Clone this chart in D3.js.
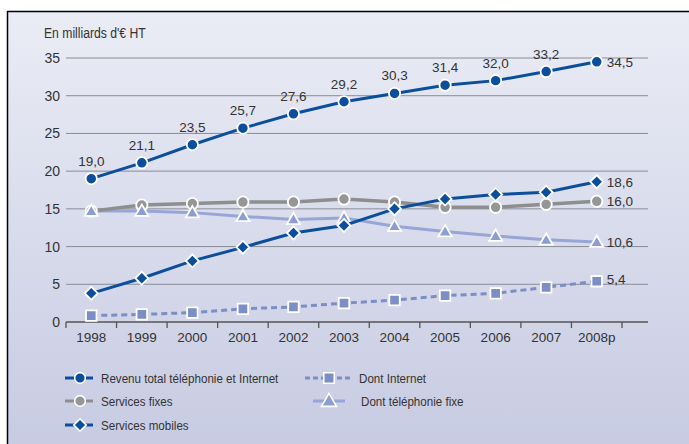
<!DOCTYPE html>
<html><head><meta charset="utf-8">
<script src="https://cdn.jsdelivr.net/npm/d3@7"></script>
<style>body{margin:0;background:#fff}svg{display:block}text{font-family:"Liberation Sans",Arial,sans-serif;fill:#333}</style>
</head><body><svg id="c" width="689" height="444"></svg>
<script>
const years = ["1998","1999","2000","2001","2002","2003","2004","2005","2006","2007","2008p"];
const revenuTotal = [19.0,21.1,23.5,25.7,27.6,29.2,30.3,31.4,32.0,33.2,34.5];
const servicesFixes = [14.7,15.5,15.7,15.9,15.9,16.3,15.9,15.2,15.2,15.6,16.0];
const servicesMobiles = [3.8,5.8,8.1,9.9,11.8,12.8,15.0,16.3,16.9,17.2,18.6];
const dontInternet = [0.85,1.0,1.25,1.75,2.0,2.5,2.9,3.5,3.8,4.6,5.4];
const dontTelFixe = [14.7,14.7,14.5,14.0,13.6,13.8,12.7,12.0,11.4,10.9,10.6];
const yTicks = [0,5,10,15,20,25,30,35];
const seriesNames = ["Revenu total téléphonie et Internet","Dont Internet","Services fixes","Dont téléphonie fixe","Services mobiles"];

const svg = d3.select("#c");
const defs = svg.append("defs");
const g0 = defs.append("linearGradient").attr("id","bg").attr("x1",0).attr("y1",0).attr("x2",0).attr("y2",1);
g0.append("stop").attr("offset","0").attr("stop-color","#eaecf5");
g0.append("stop").attr("offset","1").attr("stop-color","#c7cbe2");
svg.append("rect").attr("x",7).attr("y",11).attr("width",689).attr("height",440).attr("fill","url(#bg)");
svg.append("line").attr("x1",7).attr("x2",689).attr("y1",11.5).attr("y2",11.5).attr("stroke","#000").attr("stroke-width",1.5);
svg.append("line").attr("x1",7.5).attr("x2",7.5).attr("y1",11).attr("y2",444).attr("stroke","#000").attr("stroke-width",1.5);

const x = d3.scaleBand().domain(years).range([66,622]);
const y = d3.scaleLinear().domain([0,35]).range([322,58]);
const cx = d => x(d) + x.bandwidth()/2;

// grid
svg.append("g").selectAll("line").data(yTicks.filter(t=>t>0)).join("line")
  .attr("x1",66).attr("x2",648).attr("y1",d=>y(d)).attr("y2",d=>y(d))
  .attr("stroke","#8a8c96").attr("stroke-width",1);

// y labels
svg.append("g").selectAll("text").data(yTicks).join("text")
  .attr("x",60).attr("y",d=>y(d)).attr("dy","0.36em").attr("text-anchor","end")
  .attr("font-size",14).text(d=>d);

svg.append("text").attr("transform","translate(44,38) scale(0.87,1)").attr("font-size",14).text("En milliards d'€ HT");

// x axis
const xa = svg.append("g").attr("transform","translate(0,322)")
  .call(d3.axisBottom(x).tickSize(0).tickPadding(10));
xa.select(".domain").remove();
xa.selectAll("text").attr("font-size",13.5).attr("fill","#333").attr("font-family",null);
svg.append("line").attr("x1",66).attr("x2",648).attr("y1",322).attr("y2",322).attr("stroke","#555").attr("stroke-width",1.3);
svg.append("g").selectAll("line").data(years.concat(["end"])).join("line")
  .attr("x1",(d,i)=>66+i*x.bandwidth()).attr("x2",(d,i)=>66+i*x.bandwidth())
  .attr("y1",322).attr("y2",328).attr("stroke","#555").attr("stroke-width",1.3);

const dark="#0b4f9c", grey="#8e8e8e", light="#7b8ec6", lightLine="#97a6d6";
const line = d3.line().x((d,i)=>cx(years[i])).y(d=>y(d));

function drawLine(vals, color, w, dash){
  svg.append("path").datum(vals).attr("d",line).attr("fill","none")
    .attr("stroke",color).attr("stroke-width",w).attr("stroke-dasharray",dash||null);
}
const symDefs = {
  circle: [d3.symbolCircle, 100, 0],
  square: [d3.symbolSquare, 110, 0],
  diamond: [d3.symbolSquare, 85, 45],
  triangle: [d3.symbolTriangle, 75, 0]
};
function symPath(s, k){ return d3.symbol().type(symDefs[s][0]).size(symDefs[s][1]*(k||1))(); }
function drawMarks(vals, s, fill, dy){
  svg.append("g").selectAll("path").data(vals).join("path")
    .attr("transform",(d,i)=>`translate(${cx(years[i])},${y(d)+(dy||0)}) rotate(${symDefs[s][2]})`)
    .attr("d",symPath(s)).attr("fill",fill).attr("stroke","#fff").attr("stroke-width",1.8);
}

drawLine(dontTelFixe, lightLine, 3);
drawLine(servicesFixes, grey, 3.5);
drawMarks(servicesFixes, "circle", "#969696");
drawMarks(dontTelFixe, "triangle", "#8c9dd2", 1);
drawLine(dontInternet, light, 3, "6,4");
drawMarks(dontInternet, "square", light);
drawLine(servicesMobiles, dark, 3);
drawMarks(servicesMobiles, "diamond", dark);
drawLine(revenuTotal, dark, 3);
drawMarks(revenuTotal, "circle", dark);

const fmt = v => d3.format(".1f")(v).replace(".",",");
// labels above revenu total
svg.append("g").selectAll("text").data(revenuTotal.slice(0,-1)).join("text")
  .attr("x",(d,i)=>cx(years[i])).attr("y",d=>y(d)-13).attr("text-anchor","middle")
  .attr("font-size",13.5).text(fmt);
// right labels
const last = years.length-1;
[[revenuTotal,0],[servicesMobiles,0],[servicesFixes,0],[dontTelFixe,0],[dontInternet,-2]].forEach(([v,o])=>{
  svg.append("text").attr("x",cx(years[last])+10).attr("y",y(v[last])+o).attr("dy","0.36em")
    .attr("font-size",13.5).text(fmt(v[last]));
});

// legend
const leg = [
  {n:seriesNames[0], c:dark, s:"circle", f:dark, x1:65, x2:93, tx:101, y:378, k:0.9},
  {n:seriesNames[1], c:light, s:"square", f:light, x1:305, x2:352, tx:359, y:378, dash:"5,3", k:1},
  {n:seriesNames[2], c:grey, s:"circle", f:"#969696", x1:65, x2:93, tx:101, y:401, k:0.9},
  {n:seriesNames[3], c:lightLine, s:"triangle", f:"#8c9dd2", x1:313, x2:345, tx:361, y:401, k:1.3},
  {n:seriesNames[4], c:dark, s:"diamond", f:dark, x1:65, x2:93, tx:101, y:425, k:0.9}
];
leg.forEach(l=>{
  const gg = svg.append("g");
  gg.append("line").attr("x1",l.x1).attr("x2",l.x2).attr("y1",l.y).attr("y2",l.y)
    .attr("stroke",l.c).attr("stroke-width",3).attr("stroke-dasharray",l.dash||null);
  gg.append("path").attr("transform",`translate(${l.s==="circle"||l.s==="diamond"?80:329},${l.y+(l.s==="triangle"?1:0)}) rotate(${symDefs[l.s][2]})`)
    .attr("d",symPath(l.s,l.k)).attr("fill",l.f).attr("stroke","#fff").attr("stroke-width",1.6);
  gg.append("text").attr("transform",`translate(${l.tx},${l.y}) scale(0.86,1)`).attr("dy","0.36em")
    .attr("font-size",13.5).text(l.n);
});
</script></body></html>
